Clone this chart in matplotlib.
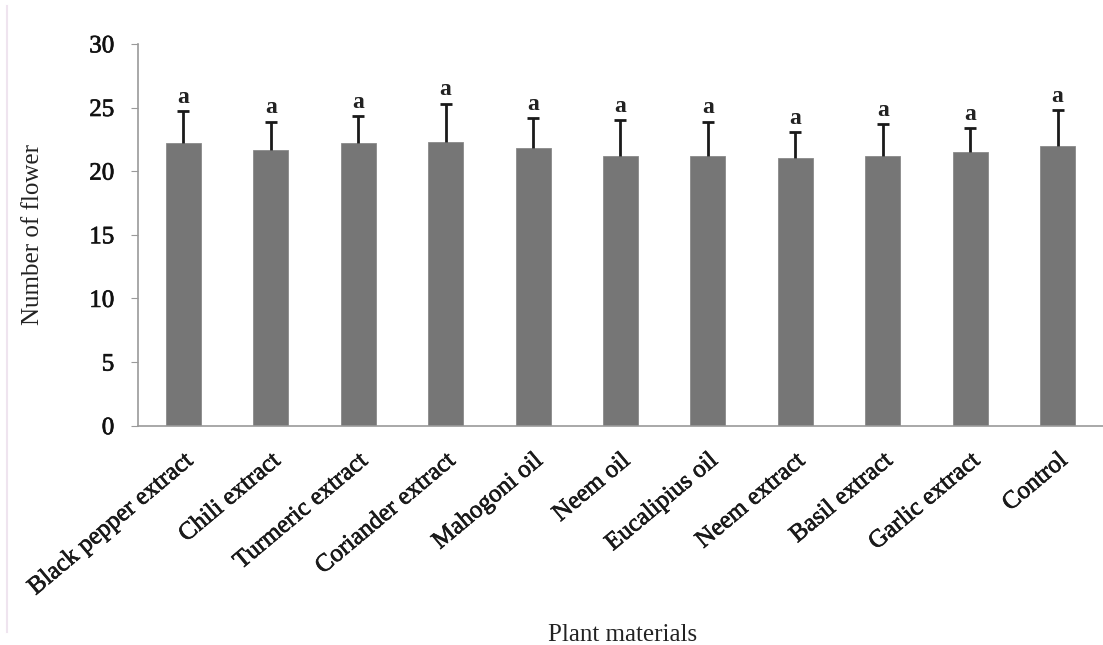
import matplotlib
matplotlib.use('Agg')
import matplotlib.pyplot as plt
import matplotlib.patheffects as pe
from matplotlib.lines import Line2D

# Data
treatments = ['Black pepper extract', 'Chili extract', 'Turmeric extract',
              'Coriander extract', 'Mahogoni oil', 'Neem oil', 'Eucalipius oil',
              'Neem extract', 'Basil extract', 'Garlic extract', 'Control']
flowers = [22.2, 21.7, 22.2, 22.3, 21.8, 21.2, 21.2, 21.0, 21.2, 21.5, 22.0]
errors = [2.5, 2.2, 2.1, 3.0, 2.4, 2.8, 2.7, 2.1, 2.5, 1.9, 2.8]
letters = ['a'] * len(treatments)
y_ticks = [0, 5, 10, 15, 20, 25, 30]

plt.rcParams['font.family'] = ['Liberation Serif', 'DejaVu Serif']

fig = plt.figure(figsize=(11.03, 6.45), dpi=100)
ax = fig.add_axes([0.125, 0.34, 0.875, 0.592])

x = list(range(len(treatments)))
ax.bar(x, flowers, width=0.4, color='#767676', edgecolor='#8a8a8a', linewidth=0.6, zorder=2)
_, caps, _ = ax.errorbar(x, flowers, yerr=[[0] * len(errors), errors], fmt='none',
                         ecolor='#1a1a1a', elinewidth=2, capsize=4.5, capthick=2, zorder=3)
# only the upper cap is drawn in the original
caps[0].set_visible(False)

for xi, v, e, lab in zip(x, flowers, errors, letters):
    ax.text(xi, v + e + 0.25, lab, ha='center', va='bottom', fontsize=17,
            fontweight='bold', color='#222222')

# slightly heavier strokes, like the scanned original
heavy = [pe.withStroke(linewidth=0.5, foreground='#1a1a1a')]

ax.set_xlim(-0.52, len(treatments) - 0.48)
ax.set_ylim(0, 30)
ax.set_yticks(y_ticks)
ax.set_yticklabels([str(t) for t in y_ticks], fontsize=18, color='#111111')
ax.set_xticks(x)
ax.set_xticklabels(treatments, rotation=40, ha='right', rotation_mode='anchor',
                   fontsize=18, color='#1a1a1a')
for lbl in ax.get_xticklabels() + ax.get_yticklabels():
    lbl.set_path_effects(heavy)

for side in ['top', 'right']:
    ax.spines[side].set_visible(False)
ax.spines['left'].set_color('#9a9a9a')
ax.spines['bottom'].set_color('#9a9a9a')
ax.spines['left'].set_linewidth(1.2)
ax.spines['bottom'].set_linewidth(1.2)
ax.tick_params(axis='y', direction='out', length=5, color='#9a9a9a', pad=12)
ax.tick_params(axis='x', length=0, pad=17)

ax.set_ylabel('Number of flower', fontsize=18, color='#222222')
ax.yaxis.set_label_coords(-0.097, 0.5)
fig.text(0.564, 0.006, 'Plant materials', ha='center', va='baseline', fontsize=18, color='#222222')

# faint border line at left edge of the original image
fig.add_artist(Line2D([0.0065, 0.0065], [0.02, 0.99], transform=fig.transFigure,
                      color='#efe4ef', linewidth=1.5))

fig.savefig('out.png', dpi=100)
